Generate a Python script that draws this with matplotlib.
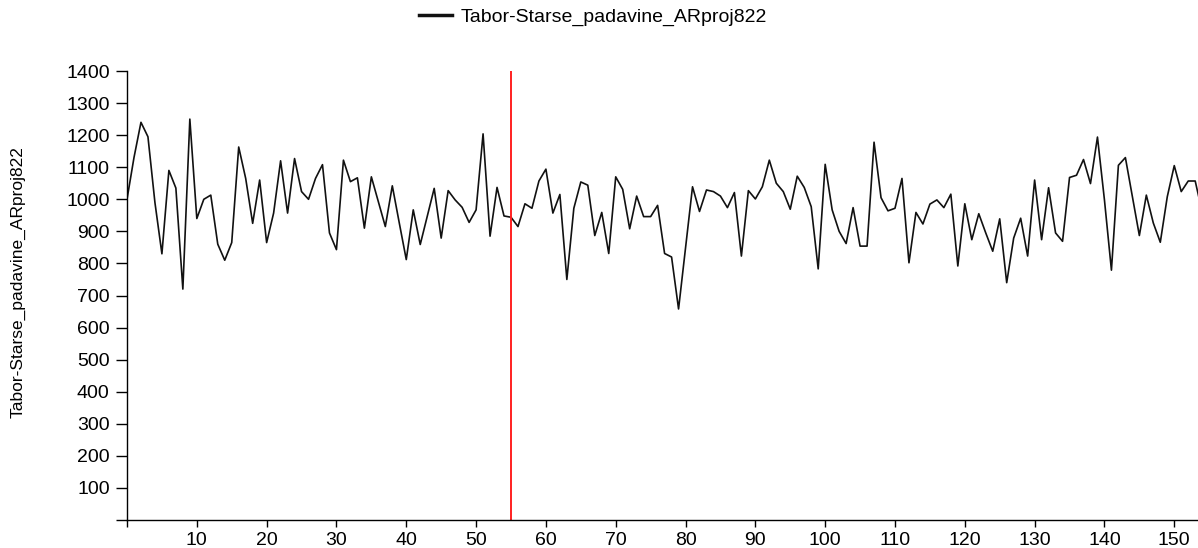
import numpy as np
import matplotlib
matplotlib.use('Agg')
import matplotlib.pyplot as plt

# series values, one per x step (0, 1, 2, ...)
series_name = 'Tabor-Starse_padavine_ARproj822'
values = [
    1000, 1130, 1240, 1195, 990, 830, 1090, 1035, 720, 1250,      # 0-9
    940, 1000, 1013, 860, 810, 865, 1163, 1065, 925, 1060,        # 10-19
    865, 957, 1120, 957, 1127, 1024, 1000, 1065, 1108, 895,       # 20-29
    843, 1122, 1055, 1067, 910, 1070, 993, 915, 1042, 926,        # 30-39
    812, 967, 859, 946, 1034, 879, 1027, 998, 975, 928,           # 40-49
    967, 1204, 885, 1037, 948, 944, 915, 986, 972, 1057,          # 50-59
    1094, 957, 1015, 750, 972, 1054, 1044, 887, 959, 831,         # 60-69
    1070, 1031, 908, 1010, 946, 946, 981, 831, 820, 658,          # 70-79
    850, 1039, 962, 1029, 1024, 1010, 974, 1021, 823, 1027,       # 80-89
    1001, 1039, 1122, 1050, 1024, 969, 1072, 1037, 977, 783,      # 90-99
    1109, 967, 900, 862, 974, 854, 854, 1178, 1005, 964,          # 100-109
    972, 1065, 802, 959, 923, 985, 998, 974, 1016, 792,           # 110-119
    986, 874, 955, 895, 838, 939, 740, 879, 941, 823,             # 120-129
    1060, 874, 1036, 895, 869, 1068, 1075, 1124, 1049, 1194,      # 130-139
    998, 779, 1106, 1130, 1008, 887, 1013, 926, 866, 1008,        # 140-149
    1105, 1024, 1057, 1057, 960,                                  # 150-154
]
x = np.arange(len(values))

marker_x = 55  # red vertical marker
x_ticks = [0, 10, 20, 30, 40, 50, 60, 70, 80, 90, 100, 110, 120, 130, 140, 150]
x_labels = [''] + [str(t) for t in x_ticks[1:]]
y_ticks = list(range(0, 1500, 100))
y_labels = [''] + [str(t) for t in y_ticks[1:]]

plt.rcParams['font.family'] = ['Liberation Sans', 'DejaVu Sans']

fig = plt.figure(figsize=(11.98, 5.48), dpi=100)
ax = fig.add_axes([127 / 1198, 1 - 520 / 548, 1 - 127 / 1198, (520 - 71) / 548])

ax.plot(x, values, color='#111111', lw=1.2, label=series_name)
ax.vlines(marker_x, 0, 1400, color='#ff2020', lw=1.4)

ax.set_xlim(0, 153.4)
ax.set_ylim(0, 1400)
ax.set_xticks(x_ticks)
ax.set_xticklabels(x_labels)
ax.set_yticks(y_ticks)
ax.set_yticklabels(y_labels)
ax.tick_params(axis='x', length=5, width=1, pad=3.5, labelsize=14)
ax.tick_params(axis='y', length=8, width=1, pad=4.5, labelsize=14)

for side in ['top', 'right']:
    ax.spines[side].set_visible(False)
for side in ['left', 'bottom']:
    ax.spines[side].set_linewidth(1.0)
    ax.spines[side].set_color('black')

# y label placed in figure coordinates, centred where the reference has it
fig.text(18 / 1198, 1 - 282 / 548, series_name, rotation=90, fontsize=12.5,
         ha='center', va='center')

fig.legend(loc='center', bbox_to_anchor=(593 / 1198, 1 - 17 / 548), frameon=False,
           fontsize=14, handlelength=1.7, handletextpad=0.45)
leg_line = fig.legends[0].get_lines()[0]
leg_line.set_linewidth(2.5)

fig.savefig('out.png', dpi=100)
